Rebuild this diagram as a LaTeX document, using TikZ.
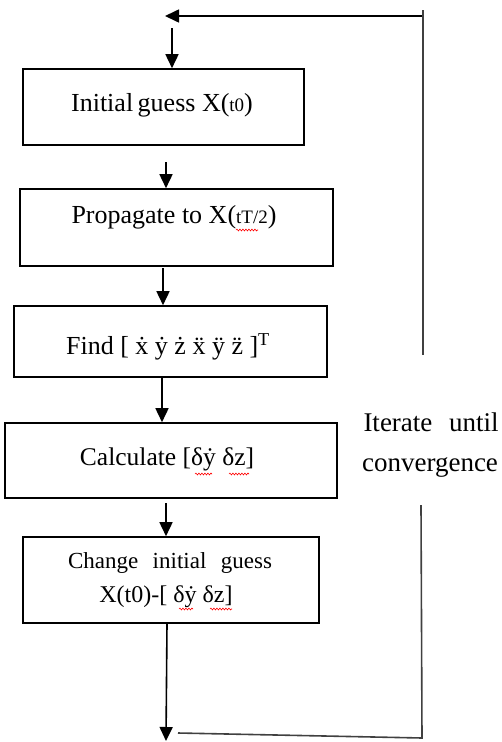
\documentclass[tikz,border=0pt]{standalone}
\usepackage{fontspec}
\setmainfont{Liberation Serif}
\usetikzlibrary{arrows.meta,decorations.pathmorphing}
\newcommand{\smtx}[1]{{\fontsize{19}{19}\selectfont #1}}
\begin{document}
\begin{tikzpicture}[x=1pt,y=-1pt,
  box/.style={draw=black,line width=1.6pt,inner sep=0pt},
  txt/.style={inner sep=0pt,font=\fontsize{26}{30}\selectfont},
  flow/.style={draw=black,line width=1.6pt,-{Triangle[width=13pt,length=14pt]}},
  loopline/.style={draw=black!75,line width=1.6pt},
  squig/.style={draw=red,line width=0.6pt,decorate,decoration={snake,segment length=3pt,amplitude=0.9pt}}]
\useasboundingbox (0,0) rectangle (502,742);
% boxes
\node[box,minimum width=281pt,minimum height=76pt] (b1) at (163.5,107) {};
\node[box,minimum width=313pt,minimum height=77pt] (b2) at (176.5,227.5) {};
\node[box,minimum width=313pt,minimum height=71pt] (b3) at (170.5,341.5) {};
\node[box,minimum width=332pt,minimum height=75pt] (b4) at (171,460.5) {};
\node[box,minimum width=296pt,minimum height=86pt] (b5) at (171,580) {};
% texts
\node[txt] (t1) at (162,105) {Initial\hspace{-2pt} guess X(\smtx{t0})};
\node[txt] (t2) at (174,217) {Propagate to X(\smtx{tT/2})};
\node[txt] (t3) at (168,347) {Find [ ẋ ẏ ż ẍ ÿ z̈ ]\textsuperscript{T}};
\node[txt,font=\fontsize{25.5}{28}\selectfont] (t4) at (167,459) {Calculate [δẏ δz]};
\node[txt,font=\fontsize{23}{28}\selectfont] (t5a) at (170,563) {\makebox[204pt][s]{Change initial guess}};
\node[txt,font=\fontsize{24}{28}\selectfont] (t5b) at (166,597) {X(t0)-[ δẏ δz]};
\node[txt,font=\fontsize{27}{30}\selectfont] (it1) at (431,422) {\makebox[135pt][s]{Iterate until}};
\node[txt,font=\fontsize{27}{30}\selectfont] (it2) at (430,467) {convergence};
% loop coordinates
\coordinate (topend) at (165,16);
\coordinate (topright) at (423,16);
\coordinate (uptop) at (423,10);
\coordinate (upbot) at (423,355);
\coordinate (lowtop) at (421,505);
\coordinate (lowbot) at (422,738);
\coordinate (botleft) at (178,733);
\coordinate (a0) at (172,28);
\coordinate (bend) at (166,741);
% flow arrows
\draw[flow] (a0) -- (b1.north -| a0);
\draw[flow] (166,162) -- (b2.north -| 166,0);
\draw[flow] (163,268) -- (b3.north -| 163,0);
\draw[flow] (162,378) -- (b4.north -| 162,0);
\draw[flow] (166,503) -- (b5.north -| 166,0);
\draw[flow] (b5.south -| 167,0) -- (bend);
% loop
\draw[flow] (topright) -- (topend);
\draw[loopline] (uptop) -- (upbot);
\draw[loopline] (lowtop) -- (lowbot) -- (botleft);
% spell-check squiggles
\draw[squig] (236,230) -- (258,230);
\draw[squig] (195,474) -- (212,474);
\draw[squig] (229,474) -- (249,474);
\draw[squig] (179,609) -- (193,609);
\draw[squig] (210,609) -- (232,609);
\end{tikzpicture}
\end{document}
